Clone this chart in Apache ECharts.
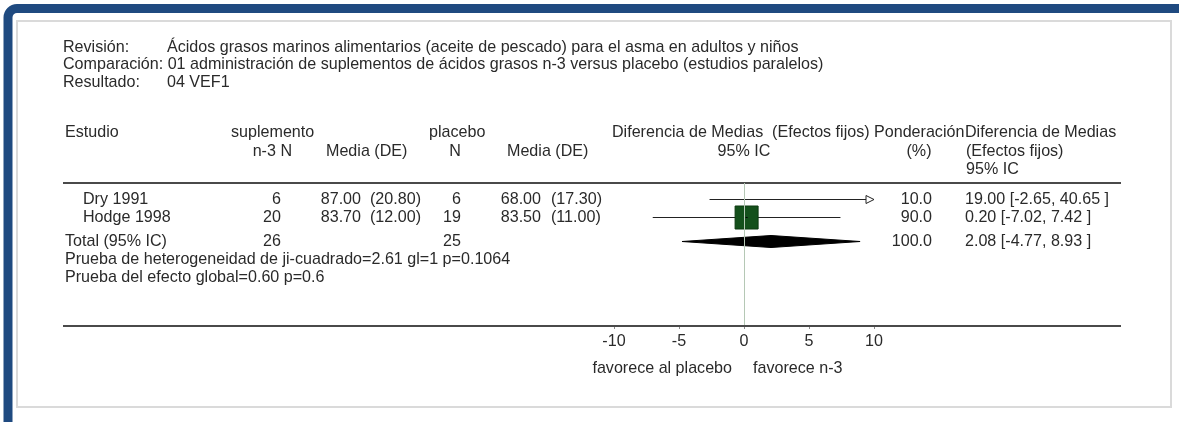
<!DOCTYPE html>
<html>
<head>
<meta charset="utf-8">
<script src="https://cdn.jsdelivr.net/npm/echarts@6/dist/echarts.min.js"></script>
<style>
  html, body { margin: 0; padding: 0; background: #ffffff; }
  #chart { width: 1179px; height: 422px; }
</style>
</head>
<body>
<div id="chart"></div>
<script>
// ---- Review description ----
const reviewTitle = 'Ácidos grasos marinos alimentarios (aceite de pescado) para el asma en adultos y niños';
const comparisonTitle = '01 administración de suplementos de ácidos grasos n-3 versus placebo (estudios paralelos)';
const outcomeTitle = '04 VEF1';

// ---- Individual studies ----
const studies = ['Dry 1991', 'Hodge 1998'];
const treatN = [6, 20];
const treatMean = [87.00, 83.70];
const treatSD = [20.80, 12.00];
const controlN = [6, 19];
const controlMean = [68.00, 83.50];
const controlSD = [17.30, 11.00];
const weights = [10.0, 90.0];
const meanDiff = [19.00, 0.20];
const ciLow = [-2.65, -7.02];
const ciHigh = [40.65, 7.42];

// ---- Pooled result (fixed effects) ----
const totalN = [26, 25];
const totalWeight = 100.0;
const totalEffect = [2.08, -4.77, 8.93];   // estimate, lower, upper
const heterogeneity = [2.61, 1, 0.1064];   // chi-square, df, p
const overallEffect = [0.60, 0.6];         // z, p

// ---- Axis ----
const xTicks = [-10, -5, 0, 5, 10];
const xRange = [-10, 10];

// ---- Layout (pixels) ----
const FONT_FAMILY = "'Liberation Sans', Arial, sans-serif";
const FONT_SIZE = 16.1;
const FONT = FONT_SIZE + 'px ' + FONT_FAMILY;
const TEXT = '#2a2a2a';
const RULE = { left: 63, right: 1121, color: '#4a4a4a' };
const PLOT = { left: 614, right: 874, top: 183, bottom: 326 };
const HEAD_Y = [48, 65, 83];
const COLHEAD_Y = [133, 152, 170];
// vertical offsets of table rows below the header rule
const ROW_Y = { studies: [16, 34], total: 58, het: 76, overall: 94 };
const COL = {
  study: 83, label: 65,
  tN: 281, tMean: 361, tSD: 370,
  cN: 461, cMean: 541, cSD: 551,
  weight: 932, ci: 965
};
const SQUARE_MAX = 23;   // side of the square for the largest weight
const DIAMOND_HALF = 6;

const fmt2 = v => v.toFixed(2);
const ciText = (e, l, h) => fmt2(e) + ' [' + fmt2(l) + ', ' + fmt2(h) + ' ]';

const chart = echarts.init(document.getElementById('chart'), null, { renderer: 'canvas' });

function txt(x, y, text, align) {
  return {
    type: 'text',
    style: { x: x, y: y, text: text, font: FONT, fill: TEXT,
             align: align || 'left', verticalAlign: 'middle',
             textAlign: align || 'left', textVerticalAlign: 'middle' },
    silent: true
  };
}

// Study rows: text cells + CI line / square
function renderStudy(params, api) {
  const i = params.dataIndex;
  const est = api.value(0), lo = api.value(1), hi = api.value(2), w = api.value(3), ry = api.value(4);
  const y = Math.round(api.coord([0, ry])[1]) + 0.5;
  const xa = api.coord([Math.max(lo, xRange[0]), ry])[0];
  const xb = api.coord([Math.min(hi, xRange[1]), ry])[0];
  const children = [
    txt(COL.study, y, studies[i]),
    txt(COL.tN, y, String(treatN[i]), 'right'),
    txt(COL.tMean, y, fmt2(treatMean[i]), 'right'),
    txt(COL.tSD, y, '(' + fmt2(treatSD[i]) + ')'),
    txt(COL.cN, y, String(controlN[i]), 'right'),
    txt(COL.cMean, y, fmt2(controlMean[i]), 'right'),
    txt(COL.cSD, y, '(' + fmt2(controlSD[i]) + ')'),
    txt(COL.weight, y, w.toFixed(1), 'right'),
    txt(COL.ci, y, ciText(est, lo, hi)),
    { type: 'line', shape: { x1: xa, y1: y, x2: xb, y2: y }, style: { stroke: '#222', lineWidth: 1 } }
  ];
  if (hi > xRange[1]) {
    children.push({ type: 'polygon', shape: { points: [[xb, y], [xb - 8, y - 4], [xb - 8, y + 4]] },
      style: { fill: '#ffffff', stroke: '#222', lineWidth: 1 } });
  }
  if (lo < xRange[0]) {
    children.push({ type: 'polygon', shape: { points: [[xa, y], [xa + 8, y - 4], [xa + 8, y + 4]] },
      style: { fill: '#ffffff', stroke: '#222', lineWidth: 1 } });
  }
  if (est >= xRange[0] && est <= xRange[1]) {
    const maxW = Math.max.apply(null, weights);
    const s = SQUARE_MAX * Math.sqrt(w / maxW);
    const cx = api.coord([est, ry])[0];
    children.push({ type: 'rect', shape: { x: cx - s / 2, y: y - s / 2, width: s, height: s },
      style: { fill: '#14501b', stroke: '#0c3a10', lineWidth: 1 } });
    children.push({ type: 'line', shape: { x1: cx - 1, y1: y, x2: cx + 1, y2: y }, style: { stroke: '#000', lineWidth: 1 } });
  }
  return { type: 'group', children: children };
}

// Pooled row: totals, tests and diamond
function renderTotal(params, api) {
  const est = api.value(0), lo = api.value(1), hi = api.value(2);
  const y = Math.round(api.coord([0, ROW_Y.total])[1]) + 0.5;
  const yh = Math.round(api.coord([0, ROW_Y.het])[1]) + 0.5;
  const yo = Math.round(api.coord([0, ROW_Y.overall])[1]) + 0.5;
  const xl = api.coord([lo, 0])[0], xe = api.coord([est, 0])[0], xr = api.coord([hi, 0])[0];
  return {
    type: 'group',
    children: [
      txt(COL.label, y, 'Total (95% IC)'),
      txt(COL.tN, y, String(totalN[0]), 'right'),
      txt(COL.cN, y, String(totalN[1]), 'right'),
      txt(COL.weight, y, totalWeight.toFixed(1), 'right'),
      txt(COL.ci, y, ciText(est, lo, hi)),
      txt(COL.label, yh, 'Prueba de heterogeneidad de ji-cuadrado=' + heterogeneity[0].toFixed(2) +
        ' gl=' + heterogeneity[1] + ' p=' + heterogeneity[2]),
      txt(COL.label, yo, 'Prueba del efecto global=' + overallEffect[0].toFixed(2) + ' p=' + overallEffect[1]),
      { type: 'polygon',
        shape: { points: [[xl, y], [xe, y - DIAMOND_HALF], [xr, y], [xe, y + DIAMOND_HALF]] },
        style: { fill: '#000', stroke: '#000', lineWidth: 1 } }
    ]
  };
}

const graphic = [
  // outer frame
  { type: 'rect', shape: { x: 8, y: 8.5, width: 1400, height: 600, r: 9 },
    style: { fill: 'none', stroke: '#1f4a80', lineWidth: 9 }, silent: true },
  // inner panel
  { type: 'rect', shape: { x: 17, y: 21, width: 1154, height: 386 },
    style: { fill: '#ffffff', stroke: '#dadada', lineWidth: 2 }, silent: true, z: -1 },
  // review header
  txt(63, HEAD_Y[0], 'Revisión:'), txt(167, HEAD_Y[0], reviewTitle),
  txt(63, HEAD_Y[1], 'Comparación: ' + comparisonTitle),
  txt(63, HEAD_Y[2], 'Resultado:'), txt(167, HEAD_Y[2], outcomeTitle),
  // column headings
  txt(65, COLHEAD_Y[0], 'Estudio'),
  txt(231, COLHEAD_Y[0], 'suplemento'),
  txt(292, COLHEAD_Y[1], 'n-3 N', 'right'),
  txt(326, COLHEAD_Y[1], 'Media (DE)'),
  txt(429, COLHEAD_Y[0], 'placebo'),
  txt(455, COLHEAD_Y[1], 'N', 'center'),
  txt(507, COLHEAD_Y[1], 'Media (DE)'),
  txt(612, COLHEAD_Y[0], 'Diferencia de Medias  (Efectos fijos)'),
  txt(744, COLHEAD_Y[1], '95% IC', 'center'),
  txt(874, COLHEAD_Y[0], 'Ponderación'),
  txt(919, COLHEAD_Y[1], '(%)', 'center'),
  txt(965, COLHEAD_Y[0], 'Diferencia de Medias'),
  txt(966, COLHEAD_Y[1], '(Efectos fijos)'),
  txt(966, COLHEAD_Y[2], '95% IC'),
  // rules
  { type: 'line', shape: { x1: RULE.left, y1: PLOT.top, x2: RULE.right, y2: PLOT.top },
    style: { stroke: RULE.color, lineWidth: 2 }, silent: true },
  { type: 'line', shape: { x1: RULE.left, y1: PLOT.bottom, x2: RULE.right, y2: PLOT.bottom },
    style: { stroke: RULE.color, lineWidth: 2 }, silent: true, z: 10 },
  // direction labels
  txt(732, 369, 'favorece al placebo', 'right'),
  txt(753, 369, 'favorece n-3')
];

const option = {
  animation: false,
  backgroundColor: '#ffffff',
  graphic: graphic,
  grid: { left: PLOT.left, right: 1179 - PLOT.right, top: PLOT.top, height: PLOT.bottom - PLOT.top },
  xAxis: {
    type: 'value', position: 'bottom', min: xRange[0], max: xRange[1], interval: 5,
    axisLine: { show: false, onZero: false },
    axisTick: { show: true, length: 3, lineStyle: { color: '#888' }, customValues: xTicks },
    axisLabel: { fontSize: FONT_SIZE, fontFamily: FONT_FAMILY, color: TEXT, margin: 8,
                 customValues: xTicks },
    splitLine: { show: false }
  },
  yAxis: {
    type: 'value', inverse: true, min: 0, max: PLOT.bottom - PLOT.top,
    show: false
  },
  series: [
    {
      type: 'custom', clip: false, silent: true,
      renderItem: renderStudy,
      data: studies.map((s, i) => [meanDiff[i], ciLow[i], ciHigh[i], weights[i], ROW_Y.studies[i]]),
      markLine: {
        silent: true, symbol: 'none', label: { show: false },
        lineStyle: { color: '#b5c8b5', width: 1, type: 'solid' },
        data: [{ xAxis: 0 }]
      },
      z: 3
    },
    {
      type: 'custom', clip: false, silent: true,
      renderItem: renderTotal,
      data: [totalEffect],
      z: 3
    }
  ]
};

chart.setOption(option);
</script>
</body>
</html>
